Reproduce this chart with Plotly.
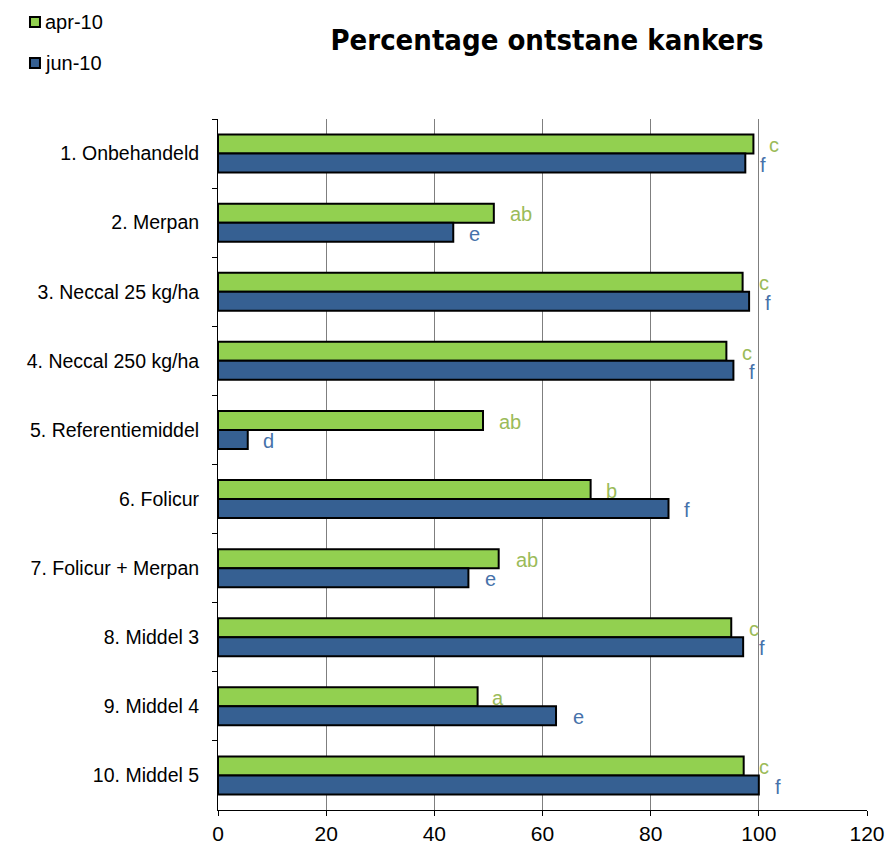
import plotly.graph_objects as go

categories = ["1. Onbehandeld", "2. Merpan", "3. Neccal 25 kg/ha", "4. Neccal 250 kg/ha",
              "5. Referentiemiddel", "6. Folicur", "7. Folicur + Merpan", "8. Middel 3",
              "9. Middel 4", "10. Middel 5"]
apr_values = [99.0, 51.0, 97.0, 94.0, 49.0, 68.9, 51.9, 94.9, 48.0, 97.2]
jun_values = [97.5, 43.5, 98.2, 95.3, 5.5, 83.3, 46.3, 97.1, 62.5, 100.0]
apr_letters = ["c", "ab", "c", "c", "ab", "b", "ab", "c", "a", "c"]
jun_letters = ["f", "e", "f", "f", "d", "f", "e", "f", "e", "f"]
series_names = ["apr-10", "jun-10"]
x_ticks = [0, 20, 40, 60, 80, 100, 120]

# label offsets (x in data units)
apr_dx = [3.8, 5.0, 3.9, 3.8, 5.0, 3.9, 5.2, 4.2, 3.7, 3.7]
jun_dx = [3.2, 4.0, 3.5, 3.4, 3.9, 3.4, 4.0, 3.5, 4.1, 3.5]

GREEN = "#92D050"
BLUE = "#366092"
GREEN_TXT = "#9BBB59"
BLUE_TXT = "#4672AA"
FONT = "Liberation Sans, Arial, sans-serif"

fig = go.Figure()
fig.add_trace(go.Bar(y=categories, x=apr_values, orientation="h", name=series_names[0],
                     marker=dict(color=GREEN, line=dict(color="black", width=2)),
                     showlegend=False))
fig.add_trace(go.Bar(y=categories, x=jun_values, orientation="h", name=series_names[1],
                     marker=dict(color=BLUE, line=dict(color="black", width=2)),
                     showlegend=False))

annotations = []
for i, cat in enumerate(categories):
    annotations.append(dict(x=apr_values[i] + apr_dx[i], y=i - 0.12, xref="x", yref="y",
                            text=apr_letters[i], showarrow=False,
                            font=dict(family=FONT, size=20, color=GREEN_TXT)))
    annotations.append(dict(x=jun_values[i] + jun_dx[i], y=i + 0.16, xref="x", yref="y",
                            text=jun_letters[i], showarrow=False,
                            font=dict(family=FONT, size=20, color=BLUE_TXT)))

# custom legend (paper coordinates)
legend_colors = [GREEN, BLUE]
legend_y = [1.1404, 1.0810]
shapes = []
for name, col, ly in zip(series_names, legend_colors, legend_y):
    shapes.append(dict(type="rect", xref="paper", yref="paper",
                       x0=-0.2897, x1=-0.2743, y0=ly - 0.0073, y1=ly + 0.0073,
                       fillcolor=col, line=dict(color="black", width=2)))
    annotations.append(dict(x=-0.2696, y=ly, xref="paper", yref="paper", text=name,
                            xanchor="left", yanchor="middle", showarrow=False,
                            font=dict(family=FONT, size=20, color="black")))

fig.update_layout(
    template="none",
    width=888, height=848,
    margin=dict(l=218, r=21, t=119, b=38),
    paper_bgcolor="white", plot_bgcolor="white",
    barmode="group", bargap=0.45, bargroupgap=0.0,
    showlegend=False,
    title=dict(text="<b>Percentage ontstane kankers</b>", x=0.616, xanchor="center",
               y=0.953, yanchor="middle",
               font=dict(family="Liberation Sans Narrow, Arial Narrow, DejaVu Sans Condensed, sans-serif",
                         size=29, color="black")),
    annotations=annotations,
    shapes=shapes,
    xaxis=dict(range=[0, 120], tickvals=x_ticks, showgrid=True, gridcolor="#7F7F7F",
               gridwidth=1, zeroline=False, showline=True, linecolor="black", linewidth=1,
               ticks="outside", ticklen=5, tickcolor="black", automargin=False,
               tickfont=dict(family=FONT, size=21, color="black")),
    yaxis=dict(autorange="reversed", showline=True, linecolor="black", linewidth=1,
               ticks="outside", ticklen=5, tickcolor="black", tickson="boundaries",
               showgrid=False, automargin=False, ticklabelstandoff=14,
               tickfont=dict(family=FONT, size=19.5, color="black")),
)

fig.write_html("out.html")
